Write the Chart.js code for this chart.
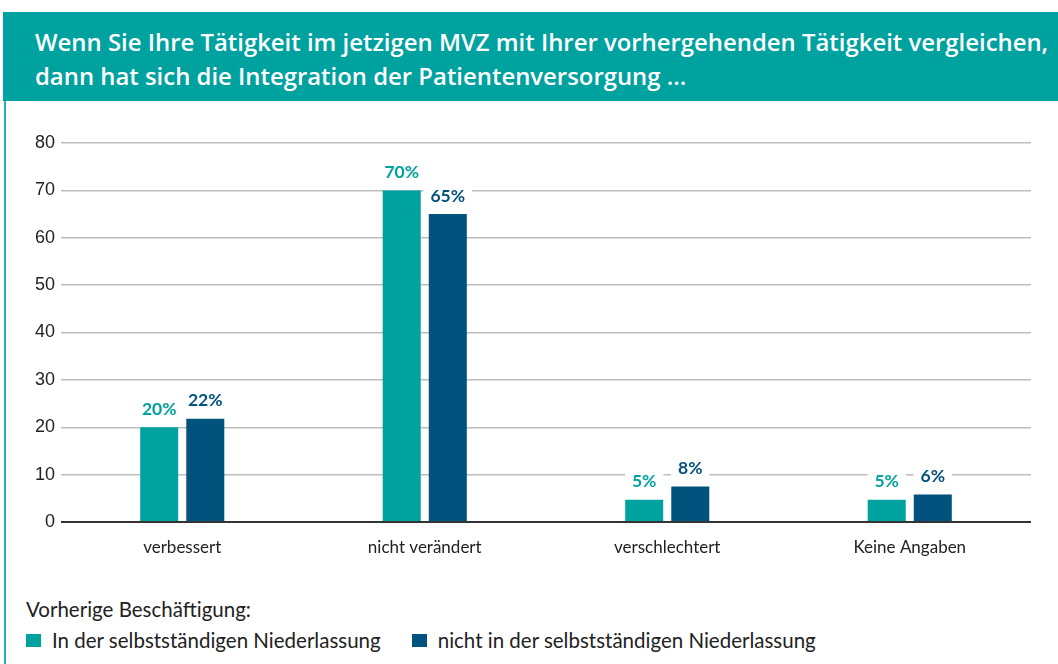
<!DOCTYPE html>
<html><head><meta charset="utf-8">
<script src="https://cdn.jsdelivr.net/npm/chart.js@4"></script>
<style>
html,body{margin:0;padding:0;background:#fff;width:1058px;height:664px;overflow:hidden;font-family:Lato,sans-serif;}
#hdr{position:absolute;left:3px;top:12px;width:1055px;height:89px;background:#00A29F;color:#fff;font-family:'Open Sans',sans-serif;font-weight:600;font-size:23.9px;line-height:34px;box-sizing:border-box;padding:13px 0 0 32px;white-space:nowrap;}
#edge{position:absolute;left:4px;top:101px;width:2px;height:563px;background:#2BB0AD;}
#wrap{position:absolute;left:6px;top:101px;width:1052px;height:480px;}
#leg{position:absolute;left:26px;top:595px;color:#222;font-size:20.5px;}
#leg .t{line-height:28px;}
#leg ul{list-style:none;margin:4px 0 0 0;padding:0;display:flex;}
#leg li{display:flex;align-items:center;margin-right:31px;line-height:26px;}
#leg li span.b{display:inline-block;width:15px;height:13px;margin-right:11px;}
</style></head>
<body>
<div id="hdr">Wenn Sie Ihre Tätigkeit im jetzigen MVZ mit Ihrer vorhergehenden Tätigkeit vergleichen,<br>dann hat sich die Integration der Patientenversorgung …</div>
<div id="edge"></div>
<div id="wrap"><canvas id="c" width="1052" height="480"></canvas></div>
<div id="leg"></div>
<script>
const categories = ['verbessert', 'nicht verändert', 'verschlechtert', 'Keine Angaben'];
const seriesNames = ['In der selbstständigen Niederlassung', 'nicht in der selbstständigen Niederlassung'];
const selbststaendig = [20, 70, 4.7, 4.7];
const nichtSelbststaendig = [21.8, 65, 7.5, 5.8];
const yTicks = [0, 10, 20, 30, 40, 50, 60, 70, 80];
const legendTitle = 'Vorherige Beschäftigung:';

const TEAL = '#00A29F', NAVY = '#01527D';

const valueLabels = {
  id: 'valueLabels',
  afterDatasetsDraw(chart) {
    const ctx = chart.ctx;
    chart.data.datasets.forEach((ds, i) => {
      const meta = chart.getDatasetMeta(i);
      meta.data.forEach((bar, j) => {
        const txt = Math.round(ds.data[j]) + '%';
        ctx.save();
        ctx.font = 'bold 17.5px Lato';
        const w = ctx.measureText(txt).width;
        const cx = bar.x, cy = bar.y - 18;
        ctx.fillStyle = '#fff';
        ctx.fillRect(cx - w / 2 - 7, cy - 11, w + 14, 22);
        ctx.fillStyle = ds.backgroundColor;
        ctx.textAlign = 'center';
        ctx.textBaseline = 'middle';
        ctx.fillText(txt, cx, cy);
        ctx.restore();
      });
    });
  }
};

const htmlLegend = {
  id: 'htmlLegend',
  afterUpdate(chart) {
    const box = document.getElementById('leg');
    box.innerHTML = '';
    const t = document.createElement('div');
    t.className = 't';
    t.textContent = legendTitle;
    box.appendChild(t);
    const ul = document.createElement('ul');
    const items = chart.options.plugins.legend.labels.generateLabels(chart);
    items.forEach(it => {
      const li = document.createElement('li');
      const b = document.createElement('span');
      b.className = 'b';
      b.style.background = it.fillStyle;
      li.appendChild(b);
      li.appendChild(document.createTextNode(it.text));
      ul.appendChild(li);
    });
    box.appendChild(ul);
  }
};

new Chart(document.getElementById('c'), {
  type: 'bar',
  data: {
    labels: categories,
    datasets: [
      { label: seriesNames[0], data: selbststaendig, backgroundColor: TEAL },
      { label: seriesNames[1], data: nichtSelbststaendig, backgroundColor: NAVY }
    ]
  },
  options: {
    responsive: false,
    animation: false,
    categoryPercentage: 0.38,
    barPercentage: 0.825,
    layout: { padding: { top: 42, right: 27, left: 8, bottom: 0 } },
    plugins: {
      legend: { display: false },
      tooltip: { enabled: false }
    },
    scales: {
      x: {
        grid: { display: false },
        border: { display: false },
        ticks: { color: '#222', font: { family: 'Lato', size: 17 }, padding: 7 },
        afterFit: s => { s.height = 59; }
      },
      y: {
        min: 0, max: 80,
        afterBuildTicks: s => { s.ticks = yTicks.map(v => ({ value: v })); },
        ticks: { color: '#222', font: { family: 'Liberation Sans', size: 18 }, padding: 6 },
        grid: {
          color: c => c.tick && c.tick.value === 0 ? '#333' : '#bdbdbd',
          lineWidth: c => c.tick && c.tick.value === 0 ? 2 : 1.5,
          drawTicks: false
        },
        border: { display: false },
        afterFit: s => { s.width = 47; }
      }
    }
  },
  plugins: [valueLabels, htmlLegend]
});
</script>
</body></html>
